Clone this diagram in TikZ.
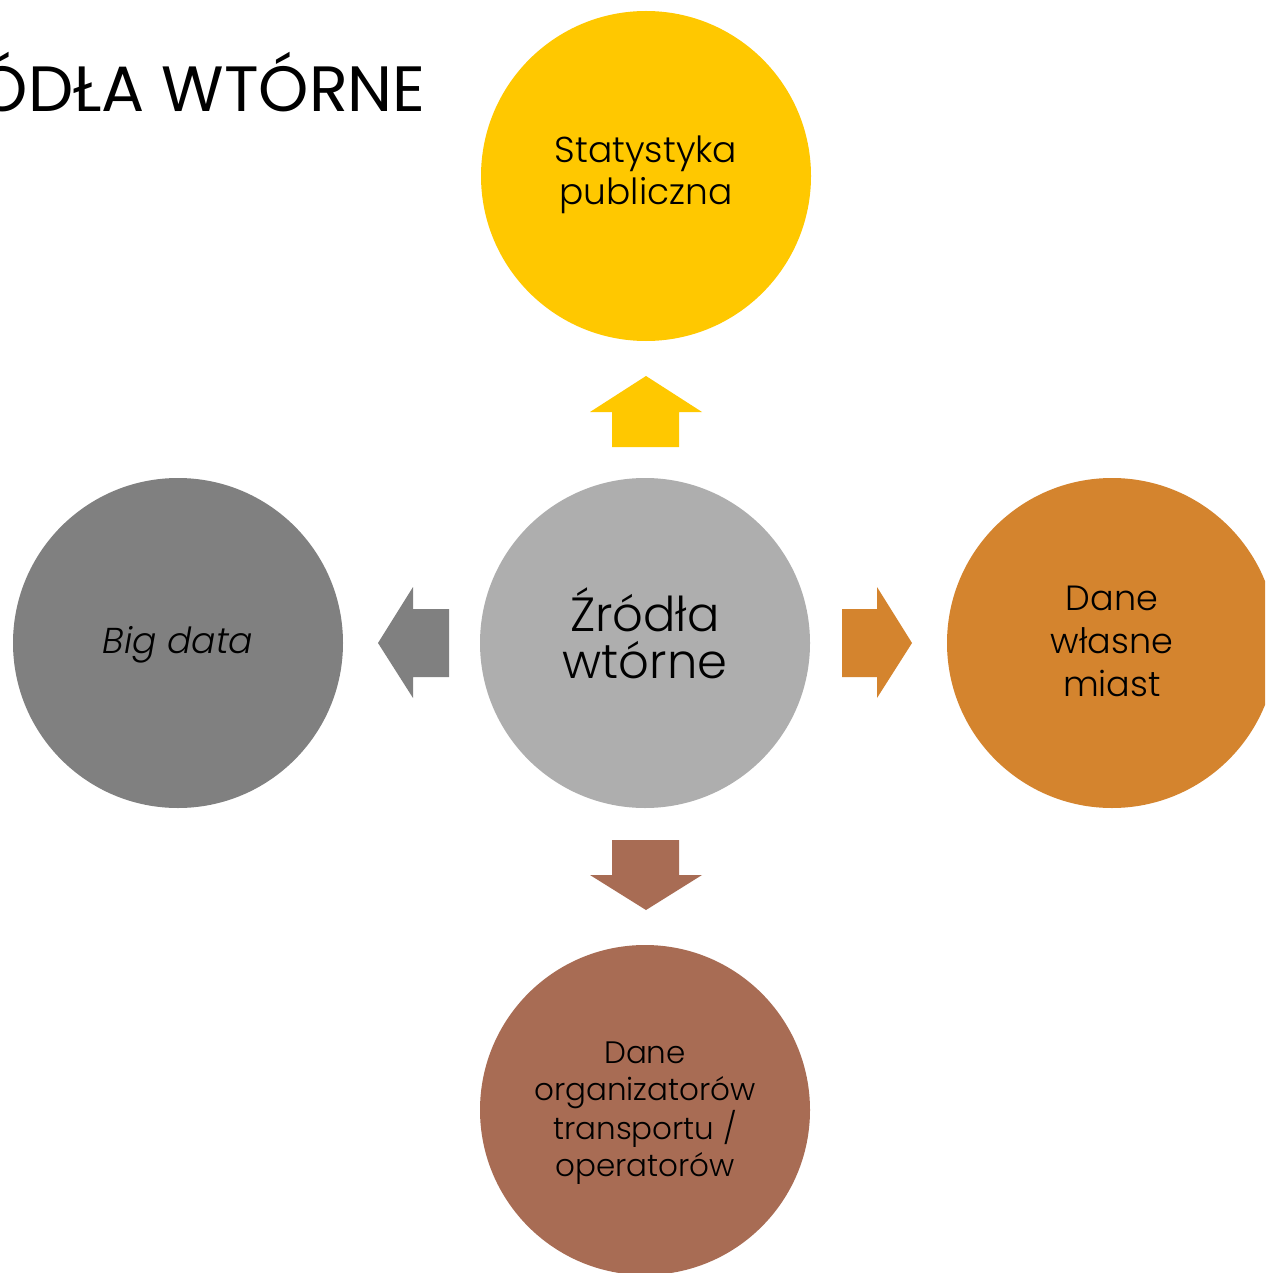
\documentclass[tikz,border=0pt]{standalone}
\usepackage{fontspec}
\setmainfont{Poppins}[UprightFont=* Light, ItalicFont=* Light Italic]
\newfontfamily\titlefont{Poppins}
\definecolor{cYellow}{RGB}{255,200,0}
\definecolor{cCenter}{RGB}{174,174,174}
\definecolor{cGray}{RGB}{128,128,128}
\definecolor{cOrange}{RGB}{212,132,46}
\definecolor{cBrown}{RGB}{168,108,84}
\begin{document}
\begin{tikzpicture}[x=1pt,y=-1pt,
  bubble/.style={circle, minimum size=330pt, inner sep=0pt},
  lbl/.style={inner sep=0pt, align=center, text=black}]
\useasboundingbox (0,0) rectangle (1265,1273);
\clip (0,0) rectangle (1265,1273);
\fill[white] (0,0) rectangle (1265,1273);
\node[anchor=base east, inner sep=0pt, font=\titlefont\fontsize{64}{70}\selectfont] (title) at (426,112) {ŹRÓDŁA WTÓRNE};
% circles
\node[bubble, fill=cYellow] (top) at (646,176) {};
\node[bubble, fill=cCenter] (center) at (645,643) {};
\node[bubble, fill=cGray] (left) at (178,643) {};
\node[bubble, fill=cOrange] (right) at (1112,643) {};
\node[bubble, fill=cBrown] (bottom) at (645,1110) {};
% labels
\node[lbl, font=\fontsize{36}{42}\selectfont] (toptext) at ([yshift=1pt]top.center) {Statystyka\\publiczna};
\node[lbl, font=\fontsize{48}{47}\selectfont] (centertext) at ([yshift=10pt]center.center) {Źródła\\wtórne};
\node[lbl, font=\itshape\fontsize{36}{42}\selectfont] (lefttext) at ([yshift=-2pt]left.center) {Big data};
\node[lbl, font=\fontsize{35}{43}\selectfont] (righttext) at ([yshift=2pt]right.center) {Dane\\własne\\miast};
\node[lbl, font=\fontsize{31}{37}\selectfont] (bottomtext) at ([yshift=-3pt]bottom.center) {Dane\\organizatorów\\transportu /\\operatorów};
% block arrows
\fill[cYellow] (612,447) -- (612,412) -- (590,412) -- (646,376) -- (702,412) -- (679,412) -- (679,447) -- cycle;
\fill[cBrown] (612,840) -- (612,875) -- (590,875) -- (646,910) -- (702,875) -- (679,875) -- (679,840) -- cycle;
\fill[cGray] (449,609) -- (413,609) -- (413,587) -- (378,643) -- (413,698) -- (413,677) -- (449,677) -- cycle;
\fill[cOrange] (842,609) -- (877,609) -- (877,587) -- (912,643) -- (877,698) -- (877,677) -- (842,677) -- cycle;
\end{tikzpicture}
\end{document}
